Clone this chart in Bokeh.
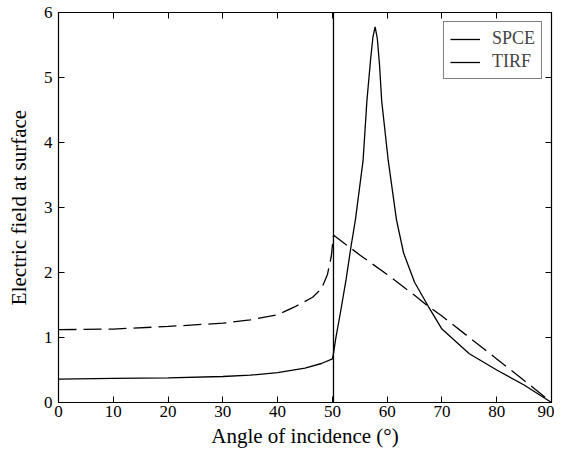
from bokeh.plotting import figure
from bokeh.models import Range1d, LinearAxis, FixedTicker, Legend, LegendItem
from bokeh.embed import file_html
from bokeh.resources import INLINE

# SPCE (solid)
spce_angle = [0, 10, 20, 30, 35, 40, 45, 48, 50, 50.2, 50.6, 51.5, 52.5, 53.4, 54.2, 55.6, 56.3,
              57.0, 57.4, 57.8, 58.2, 58.6, 59.0, 60.2, 61.7, 63, 65, 67.5, 70, 75, 80, 85, 90]
spce_field = [0.36, 0.37, 0.38, 0.40, 0.42, 0.46, 0.53, 0.60, 0.67, 0.75, 0.98, 1.4, 1.89, 2.4, 2.81, 3.72, 4.64,
              5.3, 5.62, 5.78, 5.6, 5.2, 4.64, 3.72, 2.81, 2.3, 1.85, 1.48, 1.13, 0.75, 0.5, 0.27, 0.0]
# vertical solid line at the critical angle
crit_angle = [50.2, 50.2]
crit_field = [0, 6]
# TIRF (dashed)
tirf_angle = [0, 10, 20, 30, 35, 40, 43.1, 46.4, 48, 49.1, 49.8, 50.2, 50.3, 55, 60, 65, 67.5, 70, 75, 80, 85, 90]
tirf_field = [1.12, 1.13, 1.17, 1.22, 1.27, 1.35, 1.47, 1.62, 1.75, 1.97, 2.25, 2.57, 2.57, 2.27, 1.97, 1.65, 1.48, 1.33, 1.0, 0.67, 0.34, 0.0]

x_ticks = [0, 10, 20, 30, 40, 50, 60, 70, 80, 90]
y_ticks = [0, 1, 2, 3, 4, 5, 6]

FONT = "Liberation Serif"

p = figure(width=554, height=450, output_backend="svg", toolbar_location=None,
           x_range=Range1d(0, 90), y_range=Range1d(0, 6),
           min_border_left=58, min_border_right=3, min_border_top=12, min_border_bottom=44)
p.grid.visible = False
p.outline_line_color = "black"
p.outline_line_width = 1.2

r_spce = p.line(spce_angle, spce_field, line_color="black", line_width=1.3)
r_crit = p.line(crit_angle, crit_field, line_color="black", line_width=1.3)
p.line(tirf_angle, tirf_field, line_color="black", line_width=1.3, line_dash="18 7")

for ax in (p.xaxis[0], p.yaxis[0]):
    ax.major_tick_in = 6
    ax.major_tick_out = 0
    ax.minor_tick_in = 0
    ax.minor_tick_out = 0
    ax.axis_line_color = "black"
    ax.major_tick_line_color = "black"
    ax.major_label_text_font = FONT
    ax.major_label_text_font_size = "17px"
    ax.major_label_text_color = "black"
    ax.axis_label_text_font = FONT
    ax.axis_label_text_font_size = "21px"
    ax.axis_label_text_font_style = "normal"
    ax.axis_label_text_color = "black"

p.xaxis[0].ticker = FixedTicker(ticks=x_ticks)
p.yaxis[0].ticker = FixedTicker(ticks=y_ticks)
p.xaxis[0].axis_label = "Angle of incidence (°)"
p.yaxis[0].axis_label = "Electric field at surface"
p.xaxis[0].major_label_standoff = 3
p.yaxis[0].major_label_standoff = 6
p.xaxis[0].axis_label_standoff = 4
p.yaxis[0].axis_label_standoff = 10

top = LinearAxis(ticker=FixedTicker(ticks=x_ticks), major_tick_in=6, major_tick_out=0,
                 minor_tick_in=0, minor_tick_out=0,
                 major_label_overrides={t: "" for t in x_ticks}, major_label_standoff=0)
right = LinearAxis(ticker=FixedTicker(ticks=y_ticks), major_tick_in=6, major_tick_out=0,
                   minor_tick_in=0, minor_tick_out=0,
                   major_label_overrides={t: "" for t in y_ticks}, major_label_standoff=0)
p.add_layout(top, "above")
p.add_layout(right, "right")

legend = Legend(items=[LegendItem(label="SPCE", renderers=[r_spce]),
                       LegendItem(label="TIRF", renderers=[r_crit])],
                location="top_right")
legend.label_text_font = FONT
legend.label_text_font_size = "18px"
legend.border_line_color = "black"
legend.border_line_width = 1
legend.glyph_width = 30
legend.label_height = 18
legend.glyph_height = 18
legend.label_standoff = 12
legend.spacing = 2
legend.padding = 6
legend.margin = 9
legend.background_fill_alpha = 1
p.add_layout(legend, "center")

open("out.html", "w").write(file_html(p, INLINE))
